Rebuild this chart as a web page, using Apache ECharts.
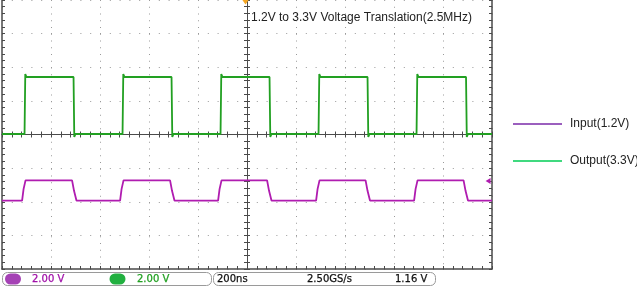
<!DOCTYPE html>
<html>
<head>
<meta charset="utf-8">
<script src="https://cdn.jsdelivr.net/npm/echarts@6/dist/echarts.min.js"></script>
<style>
html,body{margin:0;padding:0;background:#fff;}
#c{width:637px;height:288px;}
</style>
</head>
<body>
<div id="c"></div>
<script>
// ---- Data (time in ns relative to trigger, screen volts at 2 V/div) ----
var titleText = '1.2V to 3.3V Voltage Translation(2.5MHz)';
var inputName = 'Input(1.2V)';
var outputName = 'Output(3.3V)';

// Output (3.3V) trace, green
var outputTime = [-1000, -908, -905, -900, -708, -705, -700, -508, -505, -500, -308, -305, -300,
                  -108, -105, -100, 92, 95, 100, 292, 295, 300, 492, 495, 500, 692, 695, 700,
                  894, 897, 902, 1000];
var outputVolt = [0.03, 0.03, 3.6, 3.42, 3.42, -0.15, 0.03, 0.03, 3.6, 3.42, 3.42, -0.15, 0.03,
                  0.03, 3.6, 3.42, 3.42, -0.15, 0.03, 0.03, 3.6, 3.42, 3.42, -0.15, 0.03, 0.03, 3.6, 3.42,
                  3.42, -0.15, 0.03, 0.03];

// Input (1.2V) trace, purple (ground marker offset on screen)
var inputTime = [-1000, -918, -912, -904, -714, -706, -696, -518, -512, -504, -314, -306, -296,
                 -118, -112, -104, 82, 90, 100, 282, 288, 296, 484, 492, 502, 682, 688, 696,
                 884, 892, 902, 1000];
var inputVolt = [-3.93, -3.93, -3.25, -2.73, -2.73, -3.35, -3.93, -3.93, -3.25, -2.73, -2.73, -3.35, -3.93,
                 -3.93, -3.25, -2.73, -2.73, -3.35, -3.93, -3.93, -3.25, -2.73, -2.73, -3.35, -3.93,
                 -3.93, -3.25, -2.73, -2.73, -3.35, -3.93, -3.93];

var triggerLevel = [984, -2.77];
var triggerPos = [0, 8];

// Status bar texts
var ch1Scale = '2.00 V';
var ch2Scale = '2.00 V';
var timeScale = '200ns';
var sampleRate = '2.50GS/s';
var trigText = '1.16 V';

function pairs(t, v) { var r = []; for (var i = 0; i < t.length; i++) r.push([t[i], v[i]]); return r; }

var AX = '#4a4a4a';
var GRIDC = '#9a9a9a';

function xAx(extra) {
  var base = {
    type: 'value', min: -1000, max: 1000, interval: 200,
    axisLabel: { show: false },
    splitLine: { show: false },
    axisPointer: { show: false }
  };
  for (var k in extra) base[k] = extra[k];
  return base;
}
function yAx(extra) {
  var base = {
    type: 'value', min: -8, max: 8, interval: 2,
    axisLabel: { show: false },
    splitLine: { show: false },
    axisPointer: { show: false }
  };
  for (var k in extra) base[k] = extra[k];
  return base;
}
var tickIn = { show: true, inside: true, length: 3, lineStyle: { color: AX, width: 1 } };
var tickOut = { show: true, inside: false, length: 3, lineStyle: { color: AX, width: 1 } };
var minor = { show: true, splitNumber: 5, length: 3, lineStyle: { color: AX, width: 1 } };

var STAT_FONT = '10px "DejaVu Sans"';
function statText(x, txt, color) {
  return { type: 'text', x: x, y: 279.5,
           style: { text: txt, fill: color, stroke: color, lineWidth: 0.25, font: STAT_FONT, verticalAlign: 'middle' } };
}

var chart = echarts.init(document.getElementById('c'), null, { renderer: 'canvas' });
chart.setOption({
  animation: false,
  backgroundColor: '#ffffff',
  title: {
    text: titleText, left: 251, top: 12, padding: 0,
    textStyle: { fontSize: 12, fontWeight: 'normal', color: '#222', fontFamily: 'Liberation Sans, Arial, sans-serif' }
  },
  legend: {
    orient: 'vertical', left: 513, top: 116, padding: 0,
    icon: 'rect', itemWidth: 49, itemHeight: 1.5, itemGap: 21,
    selectedMode: false,
    textStyle: { fontSize: 12, lineHeight: 16, color: '#222', fontFamily: 'Liberation Sans, Arial, sans-serif', padding: [0, 0, 0, 3] },
    data: [
      { name: inputName, itemStyle: { color: '#7a2aa8', borderWidth: 0 } },
      { name: outputName, itemStyle: { color: '#00cc55', borderWidth: 0 } }
    ]
  },
  grid: { left: 2, right: 145, top: -1, bottom: 19 },
  xAxis: [
    xAx({ position: 'bottom', axisLine: { show: true, onZero: false, lineStyle: { color: AX, width: 1.5 } },
          axisTick: tickIn, minorTick: minor,
          splitLine: { show: true, lineStyle: { color: GRIDC, width: 1, type: [1, 5.75] } } }),
    xAx({ position: 'bottom', axisLine: { show: true, onZero: true, onZeroAxisIndex: 0, lineStyle: { color: AX, width: 1 } },
          axisTick: tickIn, minorTick: minor }),
    xAx({ position: 'bottom', axisLine: { show: true, onZero: true, onZeroAxisIndex: 0, lineStyle: { color: AX, width: 1 } },
          axisTick: tickOut, minorTick: minor })
  ],
  yAxis: [
    yAx({ position: 'left', axisLine: { show: true, onZero: false, lineStyle: { color: AX, width: 1.5 } },
          axisTick: tickIn, minorTick: minor,
          splitLine: { show: true, lineStyle: { color: GRIDC, width: 1, type: [1, 8.8] } } }),
    yAx({ position: 'right', axisLine: { show: true, onZero: false, lineStyle: { color: AX, width: 1.5 } },
          axisTick: tickIn, minorTick: minor }),
    yAx({ position: 'left', axisLine: { show: true, onZero: true, onZeroAxisIndex: 0, lineStyle: { color: AX, width: 1 } },
          axisTick: tickIn, minorTick: minor }),
    yAx({ position: 'left', axisLine: { show: true, onZero: true, onZeroAxisIndex: 0, lineStyle: { color: AX, width: 1 } },
          axisTick: tickOut, minorTick: minor })
  ],
  series: [
    {
      name: inputName, type: 'line', xAxisIndex: 0, yAxisIndex: 0,
      data: pairs(inputTime, inputVolt),
      symbol: 'none', showSymbol: false, silent: true,
      lineStyle: { color: '#b01cb0', width: 1.8 },
      itemStyle: { color: '#b01cb0' },
      markPoint: {
        silent: true, label: { show: false },
        data: [{ coord: triggerLevel, symbol: 'triangle', symbolSize: [6, 5], symbolRotate: 90,
                 itemStyle: { color: '#b01cb0' } }]
      },
      z: 3
    },
    {
      name: outputName, type: 'line', xAxisIndex: 0, yAxisIndex: 0,
      data: pairs(outputTime, outputVolt),
      symbol: 'none', showSymbol: false, silent: true,
      lineStyle: { color: '#22a022', width: 1.8 },
      itemStyle: { color: '#22a022' },
      markPoint: {
        silent: true, label: { show: false },
        data: [{ coord: triggerPos, symbol: 'triangle', symbolSize: [7, 5], symbolRotate: 180, symbolOffset: [-1.5, 2],
                 itemStyle: { color: '#f5a623' } }]
      },
      z: 3
    }
  ],
  graphic: [
    { type: 'rect', shape: { x: 2.5, y: 272.5, width: 209, height: 13, r: 5 }, style: { fill: '#fff', stroke: '#9a9a9a', lineWidth: 1 } },
    { type: 'rect', shape: { x: 5, y: 273.5, width: 16, height: 11, r: 5.5 }, style: { fill: '#a542b5' } },
    statText(32, ch1Scale, '#a010a8'),
    { type: 'rect', shape: { x: 109.5, y: 273.5, width: 16, height: 11, r: 5.5 }, style: { fill: '#22b040' } },
    statText(137, ch2Scale, '#22a022'),
    { type: 'rect', shape: { x: 213.5, y: 272.5, width: 222, height: 13, r: 5 }, style: { fill: '#fff', stroke: '#9a9a9a', lineWidth: 1 } },
    statText(217, timeScale, '#111'),
    statText(307, sampleRate, '#111'),
    statText(395, trigText, '#111')
  ]
});
</script>
</body>
</html>
